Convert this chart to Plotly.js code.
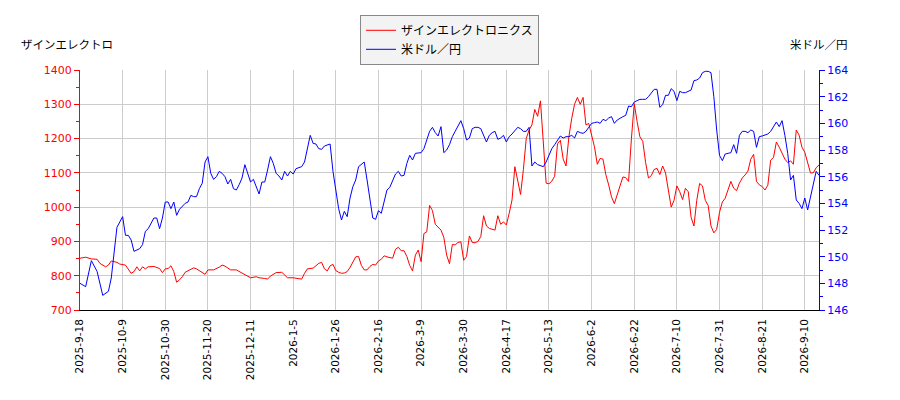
<!DOCTYPE html>
<html>
<head>
<meta charset="utf-8">
<script src="https://cdn.plot.ly/plotly-3.0.1.min.js"></script>
<style>
  body { margin: 0; background: #fff; }
  #chart { width: 900px; height: 400px; }
</style>
</head>
<body>
<div id="chart"></div>
<script>
// trading-day index (0 = 2025-9-18) and tick labels every 15 trading days
var tickDays = [0, 15, 30, 45, 60, 75, 90, 105, 120, 135, 150, 165, 180, 195, 210, 225, 240, 255];
var tickLabels = ["2025-9-18", "2025-10-9", "2025-10-30", "2025-11-20", "2025-12-11", "2026-1-5",
  "2026-1-26", "2026-2-16", "2026-3-9", "2026-3-30", "2026-4-17", "2026-5-13", "2026-6-2",
  "2026-6-22", "2026-7-10", "2026-7-31", "2026-8-21", "2026-9-10"];

var stockName = "ザインエレクトロニクス";
var fxName = "米ドル／円";

var stockDay = [0, 2, 4, 6, 7, 9, 10, 11, 13, 14, 16, 18, 19, 20, 21, 22, 23, 24, 26, 28, 29, 30, 31, 32, 33, 34, 35, 36, 37, 38, 39, 40,
  41, 42, 43, 44, 45, 47, 49, 50, 51, 52, 53, 55, 56, 57, 58, 59, 60, 62, 63, 65, 66, 67, 69, 71, 72, 73, 75, 77, 78, 79, 80,
  82, 83, 84, 85, 86, 87, 88, 89, 90, 91, 92, 93, 94, 95, 96, 97, 98, 99, 100, 101, 102, 103, 104, 105, 106, 107, 108, 109, 110,
  111, 112, 113, 114, 115, 116, 117, 118, 119, 120, 121, 122, 123, 124, 125, 126, 127, 128, 129, 130, 131, 132, 133, 134, 135,
  136, 137, 138, 139, 140, 141, 142, 143, 144, 145, 146, 147, 148, 149, 150, 151, 152, 153, 154, 155, 156, 157, 158, 159, 160,
  161, 162, 163, 164, 165, 166, 167, 168, 169, 170, 171, 172, 173, 174, 175, 176, 177, 178, 179, 180, 181, 182, 183, 184, 185,
  186, 187, 188, 189, 190, 191, 192, 193, 194, 195, 196, 197, 198, 199, 200, 201, 202, 203, 204, 205, 206, 207, 208, 209, 210,
  211, 212, 213, 214, 215, 216, 217, 218, 219, 220, 221, 222, 223, 224, 225, 226, 227, 228, 229, 230, 231, 232, 233, 234, 235,
  236, 237, 238, 239, 240, 241, 242, 243, 244, 245, 246, 247, 248, 249, 250, 251, 252, 253, 254, 255, 256, 257, 258, 259, 260];
var stockPrice = [851, 854, 849, 848, 836, 826, 831, 843, 839, 834, 831, 807, 812, 826, 814, 826, 820, 826, 827, 821, 809, 820, 821, 829, 812, 781, 788, 797, 810, 815, 820, 823,
  820, 814, 808, 804, 817, 817, 825, 831, 828, 823, 817, 817, 812, 807, 802, 798, 794, 797, 794, 792, 790, 799, 809, 810, 802, 794, 794, 792, 790, 807, 820,
  822, 829, 836, 839, 820, 814, 829, 833, 815, 810, 807, 808, 812, 824, 841, 855, 856, 830, 817, 817, 827, 833, 831, 843, 848, 858, 855, 853, 851,
  877, 883, 873, 873, 856, 830, 814, 860, 875, 841, 923, 928, 1005, 990, 950, 940, 933, 912, 860, 835, 891, 890, 897, 899, 845,
  856, 916, 897, 896, 900, 914, 975, 945, 938, 935, 933, 975, 950, 957, 948, 982, 1021, 1118, 1079, 1037, 1110, 1200, 1225, 1240, 1285,
  1265, 1310, 1180, 1070, 1068, 1076, 1090, 1185, 1195, 1140, 1120, 1205, 1259, 1300, 1320, 1300, 1320, 1240, 1244, 1210, 1176, 1125, 1142, 1140, 1095,
  1065, 1030, 1010, 1035, 1065, 1088, 1086, 1075, 1200, 1302, 1250, 1205, 1192, 1130, 1085, 1092, 1110, 1113, 1095, 1120, 1100, 1050, 1000, 1020, 1062,
  1045, 1022, 1055, 1045, 970, 945, 1020, 1069, 1062, 1020, 1005, 945, 925, 935, 985, 1015, 1026, 1050, 1075, 1055, 1048, 1070, 1085, 1094, 1105,
  1140, 1154, 1075, 1065, 1060, 1050, 1064, 1137, 1145, 1190, 1175, 1155, 1140, 1130, 1135, 1125, 1225, 1210, 1175, 1160, 1130, 1100, 1100, 1115, 1123];

var fxDay = [0, 2, 4, 6, 8, 10, 11, 12, 13, 15, 16, 17, 18, 19, 21, 22, 23, 24, 25, 26, 27, 28, 29, 30, 31, 32, 33, 34, 35, 37, 38, 39, 40,
  41, 42, 43, 44, 45, 46, 47, 48, 49, 50, 51, 52, 53, 54, 55, 56, 57, 58, 59, 60, 61, 62, 63, 64, 65, 66, 67, 68, 69, 70,
  71, 72, 73, 74, 75, 76, 77, 78, 79, 80, 81, 82, 83, 84, 85, 86, 87, 88, 89, 90, 91, 92, 93, 94, 95, 96, 97, 98, 99, 100,
  101, 102, 103, 104, 105, 106, 107, 108, 109, 110, 111, 112, 113, 114, 115, 116, 117, 118, 119, 120, 121, 122, 123, 124, 125,
  126, 127, 128, 129, 130, 131, 132, 133, 134, 135, 136, 137, 138, 139, 140, 141, 142, 143, 144, 145, 146, 147, 148, 149, 150,
  151, 152, 153, 154, 155, 156, 157, 158, 159, 160, 161, 162, 163, 164, 165, 166, 167, 168, 169, 170, 171, 172, 173, 174, 175,
  176, 177, 178, 179, 180, 181, 182, 183, 184, 185, 186, 187, 188, 189, 190, 191, 192, 193, 194, 195, 196, 197, 198, 199, 200,
  201, 202, 203, 204, 205, 206, 207, 208, 209, 210, 211, 212, 213, 214, 215, 216, 217, 218, 219, 220, 221, 222, 223, 224, 225,
  226, 227, 228, 229, 230, 231, 232, 233, 234, 235, 236, 237, 238, 239, 240, 242, 243, 245, 246, 247, 248, 249, 250, 251, 252,
  253, 254, 255, 256, 257, 258, 259, 260];
var fxRate = [148.0, 147.75, 149.7, 148.9, 147.1, 147.4, 148.4, 150.5, 152.2, 153.0, 151.6, 151.6, 151.25, 150.4, 150.6, 150.9, 151.9, 152.1, 152.5, 152.9, 152.9, 152.1, 152.9, 154.1, 154.1, 153.6, 154.1, 153.1, 153.55, 154.0, 154.1, 154.6, 154.5,
  154.5, 155.1, 155.5, 157.1, 157.5, 156.25, 155.8, 156.0, 156.4, 156.25, 156.0, 155.45, 155.8, 155.1, 155.0, 155.4, 155.9, 156.9, 156.25, 155.6, 155.8, 155.25, 154.7, 155.6, 155.6, 156.5, 157.5, 157.0, 156.25, 156.05,
  155.75, 156.4, 156.05, 156.4, 156.2, 156.6, 156.7, 156.75, 157.1, 158.0, 159.1, 158.5, 158.45, 158.1, 158.05, 158.3, 158.4, 158.45, 156.4, 154.9, 153.6, 152.75, 153.4, 153.0, 154.4, 155.25, 155.75, 156.75, 156.9, 157.1,
  155.75, 154.4, 152.9, 152.8, 153.45, 153.25, 154.25, 155.0, 155.2, 155.75, 156.2, 156.4, 156.05, 156.1, 157.0, 157.6, 157.25, 157.75, 157.8, 157.8, 158.1, 158.8, 159.4, 159.7, 159.3,
  159.05, 159.75, 157.8, 158.0, 158.4, 159.0, 159.4, 159.8, 160.2, 159.6, 158.75, 158.9, 159.6, 159.7, 159.7, 159.6, 159.1, 158.6, 159.1, 159.3, 159.4, 158.8, 158.9, 159.1, 158.6,
  159.0, 159.2, 159.45, 159.7, 159.6, 159.4, 159.4, 159.7, 156.8, 157.1, 156.9, 156.8, 156.75, 157.1, 157.6, 158.1, 158.4, 158.75, 159.05, 158.9, 159.0, 159.0, 159.1, 158.9, 159.4,
  159.3, 159.25, 159.4, 159.75, 160.0, 160.05, 160.1, 160.0, 160.3, 160.2, 160.4, 160.5, 160.0, 160.25, 160.4, 160.5, 160.6, 161.3, 161.25, 161.6, 161.7, 161.8, 161.8, 161.8, 162.0,
  162.3, 162.55, 162.55, 161.2, 161.4, 162.1, 162.1, 162.6, 162.4, 161.7, 162.4, 162.3, 162.3, 162.4, 162.5, 163.2, 163.25, 163.4, 163.8, 163.9, 163.9, 163.8, 162.0, 159.5, 157.6,
  157.2, 157.7, 157.75, 157.8, 158.4, 157.75, 159.1, 159.4, 159.4, 159.3, 159.5, 159.4, 158.2, 159.0, 159.05, 159.2, 159.4, 160.1, 159.75, 160.2, 159.1, 157.75, 155.75, 156.1, 154.25,
  154.0, 153.6, 154.4, 153.5, 154.4, 155.5, 156.4, 156.1];

var traces = [
  {x: stockDay, y: stockPrice, name: stockName, type: "scatter", mode: "lines",
   line: {color: "#ff0000", width: 1}, yaxis: "y"},
  {x: fxDay, y: fxRate, name: fxName, type: "scatter", mode: "lines",
   line: {color: "#0000ff", width: 1}, yaxis: "y2"}
];

var font = "DejaVu Sans, Noto Sans CJK JP, sans-serif";

var layout = {
  width: 900, height: 400,
  margin: {l: 80, r: 81, t: 70, b: 90},
  paper_bgcolor: "#ffffff", plot_bgcolor: "#ffffff",
  font: {family: font, size: 11, color: "#000"},
  showlegend: true,
  legend: {x: 0.5, xanchor: "center", y: 1.23, yanchor: "top",
    bgcolor: "#f3f3f3", bordercolor: "#888", borderwidth: 1,
    font: {size: 12, color: "#000"}, tracegroupgap: 2},
  xaxis: {range: [0, 260], tickmode: "array", tickvals: tickDays, ticktext: tickLabels,
    tickangle: -90, tickfont: {size: 10.5}, showgrid: true, gridcolor: "#cccccc",
    showline: true, linecolor: "#000", ticks: "outside", ticklen: 4, tickcolor: "rgba(0,0,0,0)",
    zeroline: false, fixedrange: true},
  yaxis: {range: [700, 1400], dtick: 100, tickfont: {color: "#ff0000", size: 11},
    showline: true, linecolor: "#ff0000", ticks: "outside", ticklen: 5, tickcolor: "#ff0000",
    minor: {dtick: 50, ticks: "outside", ticklen: 3, tickcolor: "#ff0000", showgrid: false},
    showgrid: true, gridcolor: "#cccccc", zeroline: false},
  yaxis2: {range: [146, 164], dtick: 2, overlaying: "y", side: "right",
    tickfont: {color: "#0000ff", size: 11},
    showline: true, linecolor: "#0000ff", ticks: "outside", ticklen: 5, tickcolor: "#0000ff",
    minor: {dtick: 1, ticks: "outside", ticklen: 3, tickcolor: "#0000ff", showgrid: false},
    showgrid: false, zeroline: false},
  annotations: [
    {text: "ザインエレクトロ", xref: "paper", yref: "paper", x: -0.083, y: 1.105,
     xanchor: "left", yanchor: "middle", showarrow: false, font: {size: 11.5, color: "#000"}},
    {text: "米ドル／円", xref: "paper", yref: "paper", x: 1.042, y: 1.105,
     xanchor: "right", yanchor: "middle", showarrow: false, font: {size: 11.5, color: "#000"}}
  ]
};

Plotly.newPlot("chart", traces, layout, {displayModeBar: false, staticPlot: true});
</script>
</body>
</html>
